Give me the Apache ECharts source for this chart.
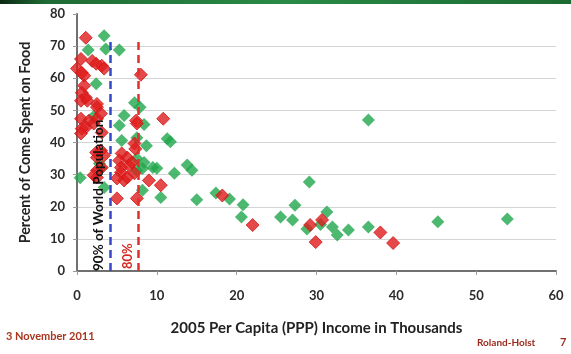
<!DOCTYPE html>
<html><head><meta charset="utf-8">
<script src="https://cdn.jsdelivr.net/npm/echarts/dist/echarts.min.js"></script>
<style>html,body{margin:0;padding:0;background:#fff}#c{width:571px;height:354px}</style>
</head><body><div id="c"></div>
<script>
// Higher-income / other countries (green diamonds)
const greenIncome = [3.4,1.4,3.6,5.3,2.4,7.2,7.9,2.1,5.9,5.3,8.4,5.6,7.5,8.7,11.3,11.7,7.5,8.4,8.2,9.5,2.8,3.0,7.5,12.2,13.8,14.4,8.2,10.5,3.4,15.0,17.4,19.1,20.8,20.6,25.5,27.3,27.0,29.1,31.3,28.8,30.5,32.0,32.6,34.0,36.5,36.5,45.2,53.9,0.4,10.0];
const greenShare  = [73.2,68.8,69.1,68.8,58.3,52.4,51.0,48.2,48.4,45.3,45.6,40.6,41.5,39.0,41.2,40.2,35.0,33.8,31.9,32.2,33.5,32.0,31.3,30.4,33.0,31.4,25.1,22.9,26.0,22.2,24.3,22.4,20.6,16.8,16.8,20.5,15.9,27.7,18.4,13.1,14.5,13.7,11.2,12.8,13.7,47.0,15.3,16.2,29.0,32.0];
// Highlighted countries (red diamonds)
const redIncome = [1.1,0.5,1.9,2.4,3.1,3.4,0.0,0.6,0.9,8.0,0.9,0.6,1.1,0.5,1.3,2.5,2.5,0.5,1.5,1.1,2.1,2.5,3.0,0.6,7.4,7.5,10.8,3.1,0.5,7.2,7.3,2.4,3.0,2.5,3.4,5.6,6.3,5.3,6.5,5.5,6.9,3.1,2.5,2.1,2.5,5.5,5.9,6.3,5.0,7.2,9.0,10.5,5.0,7.5,18.2,22.0,29.2,30.7,29.9,38.0,39.6];
const redShare  = [72.6,66.0,65.4,64.5,63.9,63.0,63.0,61.7,60.8,61.1,57.7,55.5,54.0,53.0,53.0,52.0,51.0,47.4,46.8,44.7,45.9,47.4,49.0,44.3,46.8,45.9,47.4,43.1,42.8,39.7,38.0,36.9,37.5,35.3,36.0,36.6,35.3,34.4,32.9,32.2,33.8,32.2,31.3,29.8,29.1,30.7,28.2,29.1,28.8,30.4,28.2,26.7,22.6,22.6,23.5,14.3,14.3,15.9,9.0,12.0,8.7];
// Reference lines (population thresholds)
const refIncome = [4.15, 7.7];
const refTop = [72.2, 72.0];
const refLabels = ['90% of World Population', '80%'];
const xTicks = [0,10,20,30,40,50,60];
const yTicks = [0,10,20,30,40,50,60,70,80];

const zip = (a,b) => a.map((v,i)=>[v,b[i]]);
const FONT = 'Lato';
const chart = echarts.init(document.getElementById('c'), null, {renderer:'canvas'});
const labelStyle = {fontFamily:FONT, fontWeight:'bold', fontSize:13, color:'#2b2b2b'};
chart.setOption({
  animation:false,
  backgroundColor:'#ffffff',
  grid:{left:77, right:15, top:14, bottom:83, containLabel:false},
  xAxis:[{
    type:'value', min:xTicks[0], max:xTicks[xTicks.length-1], interval:10,
    axisLine:{show:false},
    axisTick:{show:true, length:4, lineStyle:{color:'#9a9a9a'}},
    splitLine:{show:false},
    axisLabel:Object.assign({margin:18}, labelStyle),
    name:'2005 Per Capita (PPP) Income in Thousands', nameLocation:'middle', nameGap:50,
    nameTextStyle:{fontFamily:FONT, fontWeight:'bold', fontSize:15, color:'#222'}
  },{
    type:'value', min:0, max:60, position:'top',
    axisLine:{show:true, lineStyle:{color:'#707070', width:2}},
    axisTick:{show:false}, axisLabel:{show:false}, splitLine:{show:false}
  }],
  yAxis:[{
    type:'value', min:yTicks[0], max:yTicks[yTicks.length-1], interval:10,
    axisLine:{show:true, lineStyle:{color:'#d0d0d0'}},
    axisTick:{show:true, length:4, lineStyle:{color:'#9a9a9a'}},
    splitLine:{show:true, showMinLine:false, showMaxLine:false, lineStyle:{color:'#d4d4d4'}},
    axisLabel:Object.assign({margin:12}, labelStyle),
    name:'Percent of Come Spent on Food', nameLocation:'middle', nameGap:45, nameRotate:90,
    nameTextStyle:{fontFamily:FONT, fontWeight:'bold', fontSize:14.3, color:'#222'}
  },{
    type:'value', min:0, max:80, position:'right',
    axisLine:{show:true, lineStyle:{color:'#707070', width:2}},
    axisTick:{show:false}, axisLabel:{show:false}, splitLine:{show:false}
  }],
  series:[{
    type:'scatter', symbol:'diamond', symbolSize:13,
    itemStyle:{color:'#20a64b'},
    data:zip(greenIncome, greenShare), z:2
  },{
    type:'scatter', symbol:'diamond', symbolSize:13,
    itemStyle:{color:'#e01c1c', borderColor:'#cf1818', borderWidth:1},
    data:zip(redIncome, redShare), z:3
  },{
    type:'scatter', data:[[refIncome[0], 0]], symbolSize:0, silent:true, z:4,
    markLine:{
      symbol:'none', silent:true, animation:false,
      data:[
        [{coord:[refIncome[0], 0], lineStyle:{color:'#3548c8', type:[8,5], width:2.5},
          label:{show:true, formatter:refLabels[0], position:'insideStartTop', distance:[0,4],
                 fontFamily:FONT, fontWeight:'bold', fontSize:13.5, color:'#111'}},
         {coord:[refIncome[0], refTop[0]]}],
        [{coord:[refIncome[1], 0], lineStyle:{color:'#e0302a', type:[8,5], width:2.5},
          label:{show:true, formatter:refLabels[1], position:'insideStartTop', distance:[2,4],
                 fontFamily:FONT, fontWeight:'bold', fontSize:13, color:'#d42a20'}},
         {coord:[refIncome[1], refTop[1]]}]
      ]
    }
  }],
  graphic:[
    {type:'rect', left:0, top:0, shape:{width:571, height:4},
     style:{fill:new echarts.graphic.LinearGradient(0,0,1,0,[
       {offset:0, color:'#0c2a14'},{offset:0.08, color:'#1f6b35'},{offset:0.5, color:'#2a8a46'},{offset:1, color:'#1c6a33'}])}},
    {type:'text', left:6, top:331, style:{text:'3 November 2011', fill:'#a8361e', font:'bold 11px Lato'}},
    {type:'text', left:477, top:338, style:{text:'Roland-Holst', fill:'#9c2a1c', font:'bold 10px Lato'}},
    {type:'text', left:560, top:337, style:{text:'7', fill:'#9c2a1c', font:'bold 11px Lato'}}
  ]
});
</script>
</body></html>
